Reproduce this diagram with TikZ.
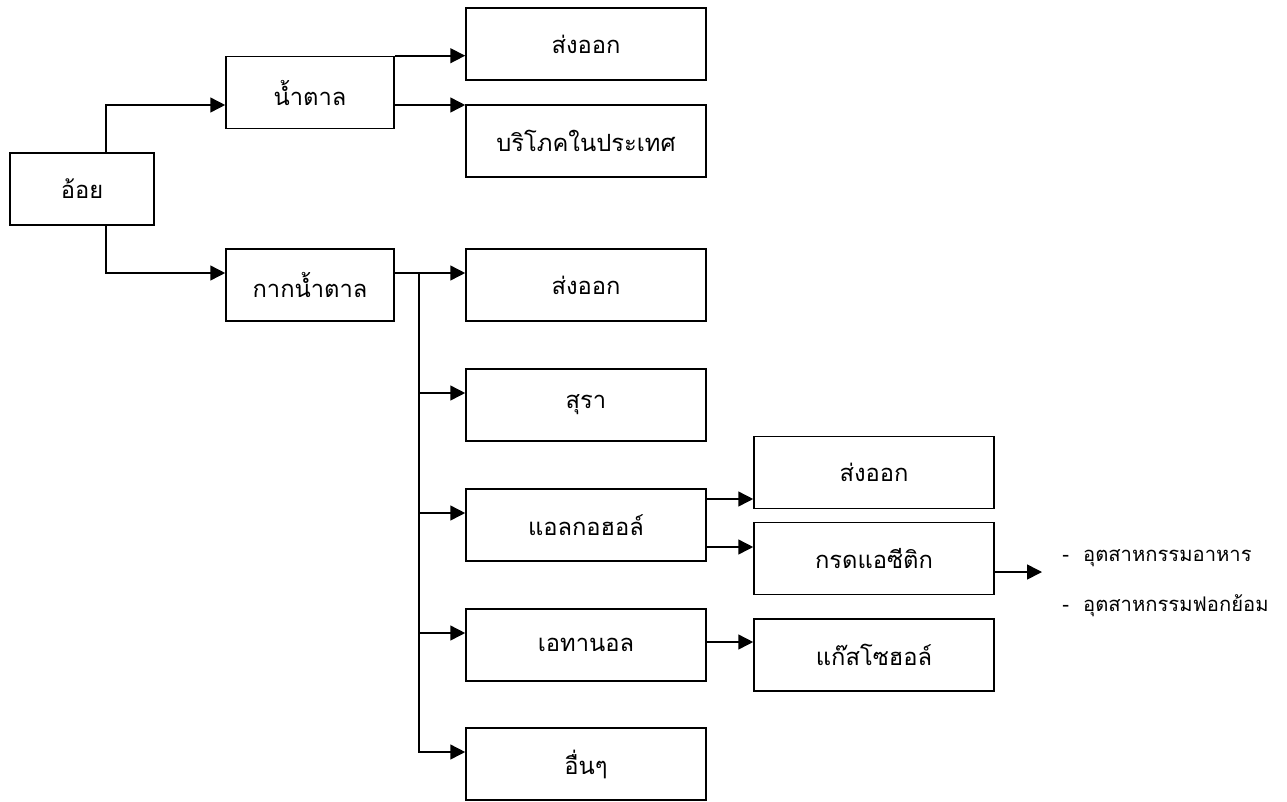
\documentclass[tikz,border=0pt]{standalone}
\usepackage{fontspec}
\usepackage{tikz}
\usetikzlibrary{arrows.meta, positioning, calc}
\newfontfamily\thaifont[Script=Thai]{Loma}

\begin{document}
\begin{tikzpicture}[
        x=0.02cm, y=-0.02cm,
        box/.style={rectangle, draw=black, line width=0.9pt, fill=white, inner sep=0pt, minimum height=72*0.02cm, font=\thaifont\fontsize{13.5}{16}\selectfont},
        small/.style={box, minimum width=144*0.02cm},
        mid/.style={box, minimum width=168*0.02cm},
        wide/.style={box, minimum width=240*0.02cm},
        arrow/.style={-{Triangle[length=8.5pt, width=8.5pt]}, line width=0.9pt, draw=black},
        note/.style={anchor=west, inner sep=0pt, font=\thaifont\fontsize{11.5}{14}\selectfont}
    ]
        \useasboundingbox (0,0) rectangle (1287,801);

        \node[small] (cane) at (82,189) {อ้อย};
        \node[mid] (sugar) at (310,92.5) {น้ำตาล};
        \node[mid] (molasses) at (310,285) {กากน้ำตาล};

        \node[wide] (exportA) at (586,44) {ส่งออก};
        \node[wide] (domestic) at (586,141) {บริโภคในประเทศ};
        \node[wide] (exportB) at (586,285) {ส่งออก};
        \node[wide] (liquor) at (586,405) {สุรา};
        \node[wide] (alcohol) at (586,525) {แอลกอฮอล์};
        \node[wide] (ethanol) at (586,645) {เอทานอล};
        \node[wide] (others) at (586,764) {อื่นๆ};

        \node[wide] (exportC) at (874,472.5) {ส่งออก};
        \node[wide] (acetic) at (874,558.5) {กรดแอซีติก};
        \node[wide] (gasohol) at (874,655) {แก๊สโซฮอล์};

        \node[note] (foodind) at (1062,558) {-\hspace{8pt}อุตสาหกรรมอาหาร};
        \node[note] (tanning) at (1062,606) {-\hspace{8pt}อุตสาหกรรมฟอกย้อม};

        % cane splits into sugar and molasses
        \draw[arrow] ($(cane.north)+(24,0)$) |- ($(sugar.west)+(0,12.5)$);
        \draw[arrow] ($(cane.south)+(24,0)$) |- ($(molasses.west)+(0,-12)$);

        \coordinate (sugarlow) at ($(sugar.east)+(0,12.5)$);
        \draw[arrow] (sugar.north east) -- (sugar.north east -| exportA.west);
        \draw[arrow] (sugarlow) -- (sugarlow -| domestic.west);

        % molasses branches
        \coordinate (fork) at ($(molasses.east)+(24,-12)$);
        \draw[arrow] ($(molasses.east)+(0,-12)$) -- ($(exportB.west)+(0,-12)$);
        \foreach \n in {liquor, alcohol, ethanol, others}
            \draw[arrow] (fork) |- ($(\n.west)+(0,-12)$);

        \coordinate (alcup) at ($(alcohol.east)+(0,-26)$);
        \coordinate (alcdown) at ($(alcohol.east)+(0,22)$);
        \coordinate (ethout) at ($(ethanol.east)+(0,-3)$);
        \draw[arrow] (alcup) -- (alcup -| exportC.west);
        \draw[arrow] (alcdown) -- (alcdown -| acetic.west);
        \draw[arrow] (ethout) -- (ethout -| gasohol.west);

        \coordinate (uses) at (1042,572);
        \draw[arrow] (acetic.east |- uses) -- (uses);
    \end{tikzpicture}
\end{document}
